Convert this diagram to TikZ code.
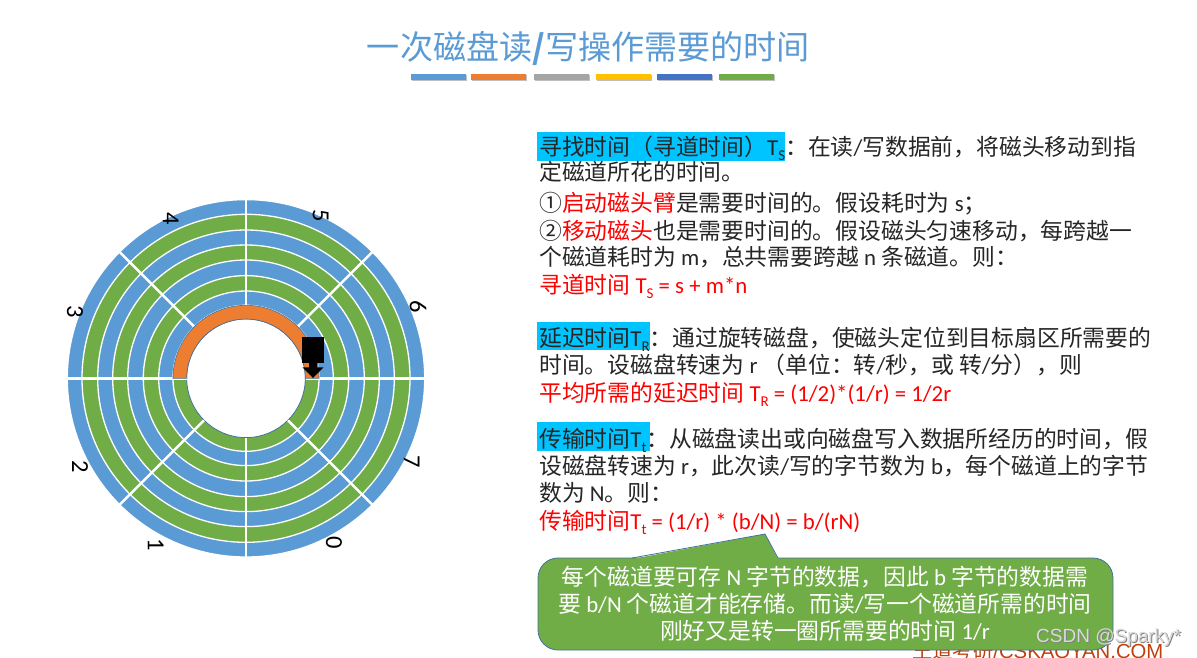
\documentclass[tikz,border=0pt]{standalone}
\usepackage{fontspec}
\setmainfont{Noto Sans CJK SC}
\newfontfamily\latinf{Carlito}
\newfontfamily\wmf{Liberation Sans}
\newcommand{\la}[1]{{\latinf #1}}
\newcommand{\lowidx}[1]{\raisebox{-0.22em}{\latinf\fontsize{15}{15}\selectfont #1}}
\definecolor{dblue}{HTML}{5B9BD5}
\definecolor{dgreen}{HTML}{70AD47}
\definecolor{dorange}{HTML}{ED7D31}
\definecolor{dedge}{HTML}{41719C}
\definecolor{hl}{HTML}{00C4FF}
\definecolor{bodyc}{HTML}{262626}
\definecolor{dgray}{HTML}{A5A5A5}
\definecolor{dyellow}{HTML}{FFC000}
\definecolor{dnavy}{HTML}{4472C4}
\definecolor{wmred}{HTML}{C0400C}
\tikzset{
  body/.style={anchor=base west,inner sep=0pt,text=bodyc,font=\fontsize{22.8}{26}\selectfont},
  redline/.style={body,text=red},
  whiteline/.style={anchor=base,inner sep=0pt,text=white,font=\fontsize{22.8}{26}\selectfont},
  digit/.style={inner sep=0pt,rotate=-90,text=black,font=\latinf\fontsize{24.5}{24}\selectfont},
  mark bar/.style={minimum width=55pt,minimum height=6pt,inner sep=0pt,anchor=north west},
  hlbox/.style={fill=hl,draw=none},
  sepline/.style={white,line width=2.4pt}
}
\begin{document}
\begin{tikzpicture}[x=1pt,y=-1pt]
\useasboundingbox (0,0) rectangle (1197,657);
\fill[white] (0,0) rectangle (1197,657);
% title
\node[anchor=base,inner sep=0pt,text=dblue,font=\fontsize{33.1}{38}\selectfont] (title) at (588.5,59.5) {一次磁盘读\textbf{/}写操作需要的时间};
\foreach \x/\c in {411/dblue,471/dorange,534/dgray,596/dyellow,657/dnavy,719/dgreen}{
  \fill[black!25] (\x+0.5,75) rectangle (\x+55.5,81);
  \node[mark bar,fill=\c] at (\x,74) {};
}
% disk
\coordinate (c) at (246,378.3);
\foreach \r/\c in {178.7/dblue,164/dgreen,148.3/dblue,133.3/dgreen,118.3/dblue,102.7/dgreen,87.3/dblue,73/dgreen}{
  \fill[\c,draw=white,line width=1.3pt] (c) circle[radius=\r pt];
}
\fill[white,draw=dedge,line width=0.8pt] (c) circle[radius=59.3pt];
\foreach \a in {0,45,...,315}{
  \draw[sepline] (c) ++(\a:59.5pt) -- ++(\a:120.5pt);
}
\filldraw[fill=dorange,draw=dedge,line width=0.6pt] (c) ++(180:73pt) arc[start angle=180,end angle=0,radius=73pt] -- ++(-13.7pt,0pt) arc[start angle=0,end angle=180,radius=59.3pt] -- cycle;
% head
\fill[black] (302,336.7) rectangle (323.8,362.7);
\fill[black] (309,362) -- (317,362) -- (317,367.3) -- (323.5,367.3) -- (313,378) -- (302.5,367.3) -- (309,367.3) -- cycle;
% sector numbers
\node[digit] (n5) at (320.7,216) {5};
\node[digit] (n4) at (170.7,219) {4};
\node[digit] (n6) at (418,306.7) {6};
\node[digit] (n7) at (411.7,461.7) {7};
\node[digit] (n0) at (334,543) {0};
\node[digit] (n1) at (155.7,545) {1};
\node[digit] (n2) at (80,466.7) {2};
\node[digit] (n3) at (75,311.7) {3};
% highlights
\fill[hlbox] (537,132) rectangle (785,161);
\fill[hlbox] (537,322) rectangle (650,350);
\fill[hlbox] (537,422) rectangle (650,451);
% text
\node[body] (l1) at (539,155) {寻找时间（寻道时间）\la{T}\lowidx{S}：在读\la{/}写数据前，将磁头移动到指};
\node[body] (l2) at (539,180) {定磁道所花的时间。};
\node[body] (l3) at (539,211) {①{\color{red}启动磁头臂}是需要时间的。假设耗时为\la{ s}；};
\node[body] (l4) at (539,239) {②{\color{red}移动磁头}也是需要时间的。假设磁头匀速移动，每跨越一};
\node[body] (l5) at (539,265) {个磁道耗时为\la{ m}，总共需要跨越\la{ n }条磁道。则：};
\node[redline] (l6) at (539,293) {寻道时间\la{ T}\lowidx{S}\la{ = s + m*n}};
\node[body] (l7) at (539,346) {延迟时间\la{T}\lowidx{R}：通过旋转磁盘，使磁头定位到目标扇区所需要的};
\node[body] (l8) at (539,373) {时间。设磁盘转速为\la{ r }（单位：转\la{/}秒，或\la{ }转\la{/}分），则};
\node[redline] (l9) at (539,401) {平均所需的延迟时间\la{ T}\lowidx{R}\la{ = (1/2)*(1/r) = 1/2r}};
\node[body] (l10) at (539,447) {传输时间\la{T}\lowidx{t}：从磁盘读出或向磁盘写入数据所经历的时间，假};
\node[body] (l11) at (539,474) {设磁盘转速为\la{ r}，此次读\la{/}写的字节数为\la{ b}，每个磁道上的字节};
\node[body] (l12) at (539,501) {数为\la{ N}。则：};
\node[redline] (l13) at (539,529) {传输时间\la{T}\lowidx{t}\la{ = (1/r) * (b/N) = b/(rN)}};
% watermark behind callout
\node[anchor=base west,inner sep=0pt,text=wmred,font=\fontsize{20.3}{24}\selectfont] (wm2) at (912,658.5) {王道考研\wmf /CSKAOYAN.COM};
% callout
\draw[fill=dgreen,draw=dedge,line width=0.8pt,rounded corners=20pt]
  (538,558) -- (1113,558) -- (1113,650) -- (538,650) -- cycle;
\fill[dgreen] (632,559) -- (765,534) -- (778,559) -- cycle;
\draw[dedge,line width=0.8pt] (632,558) -- (765,534) -- (778,558);
\node[whiteline] (c1) at (825,585) {每个磁道要可存\la{ N }字节的数据，因此\la{ b }字节的数据需};
\node[whiteline] (c2) at (825,612) {要\la{ b/N }个磁道才能存储。而读\la{/}写一个磁道所需的时间};
\node[whiteline] (c3) at (825,639) {刚好又是转一圈所需要的时间\la{ 1/r}};
% csdn watermark
\node[anchor=base west,inner sep=0pt,text=black!50,font=\wmf\fontsize{19}{20}\selectfont] (wm1s) at (1037,643) {CSDN @Sparky*};
\node[anchor=base west,inner sep=0pt,text=white!85!black,font=\wmf\fontsize{19}{20}\selectfont] (wm1) at (1036,642) {CSDN @Sparky*};
\end{tikzpicture}
\end{document}
